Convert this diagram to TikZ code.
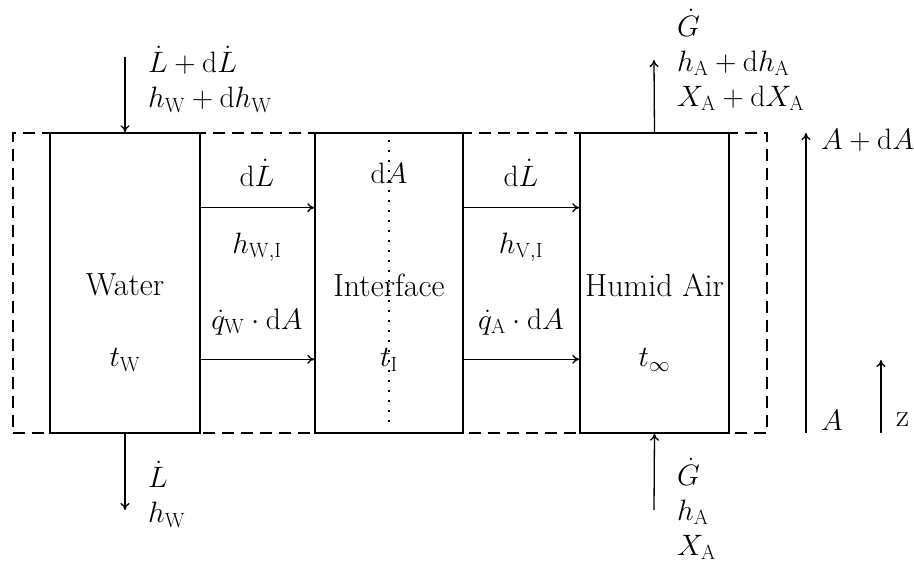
\IfFileExists{fix-cm.sty}{\RequirePackage{fix-cm}}{}
\documentclass[tikz,border=0pt]{standalone}
\usetikzlibrary{arrows.meta,calc}
\DeclareMathSizes{32}{29.5}{20.6}{14.8}
\begin{document}
\begin{tikzpicture}[x=1pt,y=-1pt,
  every node/.style={font=\fontsize{32}{35}\selectfont, inner sep=0pt},
  blk/.style={draw, line width=1.4pt, minimum width=150pt, minimum height=300pt},
  ctrl/.style={draw, dashed, dash pattern=on 12pt off 7pt, line width=1.3pt, minimum width=754pt, minimum height=300pt},
  flow/.style={line width=1.3pt, -{To[length=7pt,width=9pt]}},
  lbl/.style={align=left, anchor=west}
]
\useasboundingbox (0,0) rectangle (914,564);
\node[ctrl] (cv) at (390,283) {};
\node[blk] (water) at (125,283) {};
\node[blk, minimum width=148pt] (inter) at (389,283) {};
\node[blk, minimum width=149pt] (air) at (654.5,283) {};

\draw[line width=1.2pt, dash pattern=on 1.6pt off 8.4pt] ($(inter.north)+(0,8)$) -- ($(inter.south)+(0,-10)$);

\node at (125,285) (wt) {Water};
\node at (125,360) (tw) {$t_{\mathrm{W}}$};
\node at (389,285) (it) {Interface};
\node at (389,360) (ti) {$t_{\mathrm{I}}$};
\node at (389,173) (da) {$\mathrm{d}A$};
\node at (654.5,285) (at) {Humid Air};
\node at (654.5,360) (tinf) {$t_{\infty}$};

% horizontal flows
\draw[flow] ($(water.north east)!0.25!(water.south east)$) -- ($(inter.north west)!0.25!(inter.south west)$);
\draw[flow] ($(water.north east)!0.753!(water.south east)$) -- ($(inter.north west)!0.753!(inter.south west)$);
\draw[flow] ($(inter.north east)!0.25!(inter.south east)$) -- ($(air.north west)!0.25!(air.south west)$);
\draw[flow] ($(inter.north east)!0.753!(inter.south east)$) -- ($(air.north west)!0.753!(air.south west)$);

\node at (257,173) (l1) {$\mathrm{d}\dot{L}$};
\node at (257,247) (l2) {$h_{\mathrm{W,I}}$};
\node at (257,322) (l3) {$\dot{q}_{\mathrm{W}}\cdot\mathrm{d}A$};
\node at (521,173) (r1) {$\mathrm{d}\dot{L}$};
\node at (521,247) (r2) {$h_{\mathrm{V,I}}$};
\node at (521,322) (r3) {$\dot{q}_{\mathrm{A}}\cdot\mathrm{d}A$};

% vertical flows
\coordinate (win) at (125,57);
\coordinate (wout) at (125,510);
\coordinate (aout) at (654,60);
\coordinate (ain) at (654,510);
\draw[flow] (win) -- (water.north);
\draw[flow] (water.south) -- (wout);
\draw[flow] (air.north) -- (aout);
\draw[flow] (ain) -- (air.south);

\node[lbl] at (148,79) (wtl) {$\dot{L}+\mathrm{d}\dot{L}$\\$h_{\mathrm{W}}+\mathrm{d}h_{\mathrm{W}}$};
\node[lbl] at (148,494) (wbl) {$\dot{L}$\\$h_{\mathrm{W}}$};
\node[lbl] at (677,60) (atl) {$\dot{G}$\\$h_{\mathrm{A}}+\mathrm{d}h_{\mathrm{A}}$\\$X_{\mathrm{A}}+\mathrm{d}X_{\mathrm{A}}$};
\node[lbl] at (677,509) (abl) {$\dot{G}$\\$h_{\mathrm{A}}$\\$X_{\mathrm{A}}$};

% axis
\coordinate (abot) at (806,433);
\coordinate (atop) at (806,133);
\draw[flow] (abot) -- (atop);
\node[anchor=west] at (821,140) (adA) {$A+\mathrm{d}A$};
\node[anchor=west] at (821,420) (aA) {$A$};
\coordinate (zbot) at (881,433);
\coordinate (ztop) at (881,360);
\draw[flow] (zbot) -- (ztop);
\node[anchor=west] at (896,420) (zl) {z};
\end{tikzpicture}
\end{document}
